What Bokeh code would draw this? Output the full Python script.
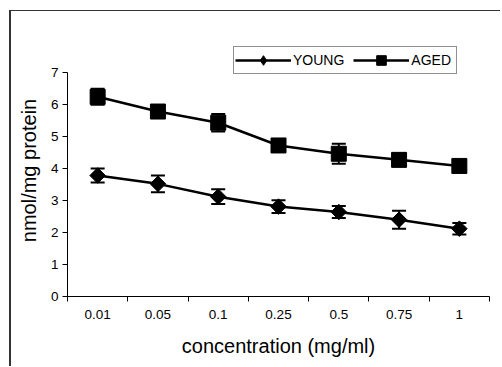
from bokeh.plotting import figure
from bokeh.models import (FixedTicker, Whisker, ColumnDataSource, TeeHead,
                          Range1d, Legend, LegendItem)
from bokeh.embed import file_html
from bokeh.resources import INLINE

concentrations = ["0.01", "0.05", "0.1", "0.25", "0.5", "0.75", "1"]
young = [3.78, 3.52, 3.12, 2.81, 2.64, 2.40, 2.12]
young_err = [0.22, 0.26, 0.23, 0.20, 0.19, 0.28, 0.18]
aged = [6.24, 5.78, 5.43, 4.72, 4.46, 4.27, 4.08]
aged_err = [0.25, 0.15, 0.27, 0.14, 0.31, 0.20, 0.14]
y_ticks = [0, 1, 2, 3, 4, 5, 6, 7]

FONT = "Liberation Sans"
n = len(concentrations)
xs = list(range(1, n + 1))

src_y = ColumnDataSource(dict(x=xs, y=young,
                              lower=[v - e for v, e in zip(young, young_err)],
                              upper=[v + e for v, e in zip(young, young_err)]))
src_a = ColumnDataSource(dict(x=xs, y=aged,
                              lower=[v - e for v, e in zip(aged, aged_err)],
                              upper=[v + e for v, e in zip(aged, aged_err)]))

# extra headroom above the axis (axis itself is bounded to 0..7) for the legend
p = figure(width=491, height=356, output_backend="svg", toolbar_location=None,
           x_range=Range1d(0.5, n + 0.5), y_range=Range1d(0, 7.875),
           min_border_left=56, min_border_right=13, min_border_top=33,
           min_border_bottom=71)
p.styles = {"margin-left": "9px", "margin-top": "10px",
            "border-left": "2px solid #333333", "border-top": "1px solid #333333"}
p.outline_line_color = None
p.xgrid.grid_line_color = None
p.ygrid.grid_line_color = None
p.background_fill_color = "white"
p.border_fill_color = "white"

# error bars
for src in (src_y, src_a):
    w = Whisker(source=src, base="x", upper="upper", lower="lower",
                line_color="black", line_width=2,
                upper_head=TeeHead(size=14, line_width=2, line_color="black"),
                lower_head=TeeHead(size=14, line_width=2, line_color="black"))
    p.add_layout(w)

ly = p.line("x", "y", source=src_y, line_color="black", line_width=2.5)
sy = p.scatter("x", "y", source=src_y, marker="square", angle=0.785398,
               size=11, fill_color="black", line_color="black")
sy_leg = p.scatter("x", "y", source=src_y, marker="diamond", size=11,
                   fill_color="black", line_color="black", visible=False)
la = p.line("x", "y", source=src_a, line_color="black", line_width=2.5)
sa = p.scatter("x", "y", source=src_a, marker="square", size=15,
               fill_color="black", line_color="black")

legend = Legend(items=[LegendItem(label="YOUNG", renderers=[ly, sy_leg]),
                       LegendItem(label="AGED", renderers=[la, sa])],
                location=(166, 222), orientation="horizontal",
                border_line_color="#222222", border_line_width=1,
                padding=1, spacing=9, margin=0,
                glyph_width=56, glyph_height=24, label_height=24,
                label_width=44, label_standoff=2, label_text_font=FONT,
                label_text_font_size="14px", label_text_color="black",
                background_fill_color="white", background_fill_alpha=1)
p.add_layout(legend, "center")

# x axis
xa = p.xaxis[0]
xa.ticker = FixedTicker(ticks=xs, minor_ticks=[i + 0.5 for i in range(n + 1)])
xa.major_label_overrides = {x: c for x, c in zip(xs, concentrations)}
xa.major_tick_line_color = None
xa.major_tick_out = 0
xa.major_tick_in = 0
xa.minor_tick_line_color = "black"
xa.minor_tick_out = 5
xa.minor_tick_in = 0
xa.axis_line_color = "black"
xa.major_label_text_font = FONT
xa.major_label_text_font_size = "13.5px"
xa.major_label_text_color = "black"
xa.major_label_standoff = 8
xa.axis_label = "concentration (mg/ml)"
xa.axis_label_text_font = FONT
xa.axis_label_text_font_size = "20px"
xa.axis_label_text_font_style = "normal"
xa.axis_label_text_color = "black"
xa.axis_label_standoff = 13

# y axis
ya = p.yaxis[0]
ya.ticker = FixedTicker(ticks=y_ticks)
ya.bounds = (y_ticks[0], y_ticks[-1])
ya.major_tick_line_color = "black"
ya.major_tick_out = 5
ya.major_tick_in = 0
ya.minor_tick_line_color = None
ya.axis_line_color = "black"
ya.major_label_text_font = FONT
ya.major_label_text_font_size = "13.5px"
ya.major_label_text_color = "black"
ya.major_label_standoff = 4
ya.axis_label = "nmol/mg protein"
ya.axis_label_text_font = FONT
ya.axis_label_text_font_size = "20px"
ya.axis_label_text_font_style = "normal"
ya.axis_label_text_color = "black"
ya.axis_label_standoff = 8

open("out.html", "w").write(file_html(p, INLINE))
